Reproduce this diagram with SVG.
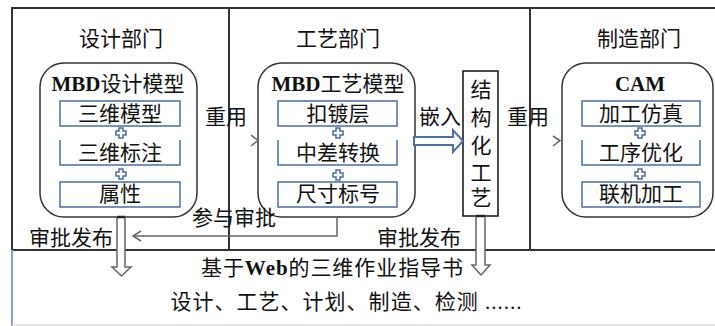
<svg xmlns="http://www.w3.org/2000/svg" width="715" height="326" viewBox="0 0 715 326">
<style>
text{font-family:"Liberation Serif","Noto Sans CJK SC",serif;font-size:21px;fill:#111;text-anchor:middle}
.b{font-weight:bold}
.frame{stroke:#333;stroke-width:2;fill:none}
.rbox{fill:#fff;stroke:#333;stroke-width:1.5}
.ibox{fill:#fff;stroke:#4a6fa5;stroke-width:1.5}
.iside{fill:none;stroke:#4a6fa5;stroke-width:1.5}
.plus{fill:#fff;stroke:#4a6fa5;stroke-width:1.5}
.conn{fill:none;stroke:#666;stroke-width:1.5}
.hollow{fill:#fff;stroke:#666;stroke-width:1.5}
.hollowb{fill:#fff;stroke:#4a6fa5;stroke-width:2}
</style>
<defs>
<path id="plus" d="M-2,-5h4v3h3v4h-3v3h-4v-3h-3v-4h3z" class="plus"/>
</defs>
<rect x="0" y="0" width="715" height="326" fill="#fff"/>
<g id="frame">
<path class="frame" d="M11,8H715M12,8V250M229,8V250M530,8V250M12,250H715"/>
<path d="M12,250V326" stroke="#8aa0c0" stroke-width="2" fill="none"/>
<path d="M12,325H715" stroke="#ddd" stroke-width="1.5" fill="none"/>
</g>
<g id="titles">
<text x="121" y="46">设计部门</text>
<text x="338" y="46">工艺部门</text>
<text x="639" y="46">制造部门</text>
</g>
<g id="design-model">
<rect class="rbox" x="40" y="63" width="157" height="154" rx="24"/>
<text x="118" y="91"><tspan class="b">MBD</tspan>设计模型</text>
<rect class="ibox" x="60" y="101" width="120" height="25"/>
<path class="iside" d="M60,140V165H180V140"/>
<rect class="ibox" x="60" y="182" width="120" height="25"/>
<text x="120" y="121">三维模型</text>
<text x="120" y="160">三维标注</text>
<text x="120" y="201">属性</text>
<use href="#plus" x="121" y="133"/>
<use href="#plus" x="121" y="174"/>
</g>
<g id="process-model">
<rect class="rbox" x="258" y="63" width="157" height="154" rx="24"/>
<text x="338" y="91"><tspan class="b">MBD</tspan>工艺模型</text>
<rect class="ibox" x="278" y="101" width="119" height="25"/>
<path class="iside" d="M278,140V165H397V140"/>
<rect class="ibox" x="278" y="182" width="119" height="25"/>
<text x="338" y="121">扣镀层</text>
<text x="338" y="160">中差转换</text>
<text x="338" y="201">尺寸标号</text>
<use href="#plus" x="338" y="133"/>
<use href="#plus" x="338" y="175"/>
</g>
<g id="structured-process">
<rect x="463" y="71" width="35" height="145" fill="#fff" stroke="#111" stroke-width="1.5"/>
<text x="481" y="97">结</text>
<text x="481" y="125">构</text>
<text x="481" y="153">化</text>
<text x="481" y="180">工</text>
<text x="481" y="205">艺</text>
</g>
<g id="cam">
<rect class="rbox" x="562" y="63" width="151" height="154" rx="24"/>
<text x="640" y="91" class="b">CAM</text>
<rect class="ibox" x="582" y="101" width="118" height="25"/>
<path class="iside" d="M582,140V165H700V140"/>
<rect class="ibox" x="582" y="182" width="118" height="25"/>
<text x="641" y="121">加工仿真</text>
<text x="641" y="160">工序优化</text>
<text x="641" y="201">联机加工</text>
<use href="#plus" x="640" y="133"/>
<use href="#plus" x="640" y="174"/>
</g>
<g id="guide">
<text x="332" y="275" textLength="262" lengthAdjust="spacing">基于<tspan class="b">Web</tspan>的三维作业指导书</text>
<text x="346" y="309" textLength="351" lengthAdjust="spacing">设计、工艺、计划、制造、检测 ......</text>
</g>
<g id="connectors">
<path class="conn" d="M251,135L258,140.5L251,146"/>
<path class="conn" d="M553,136L560,140.5L553,146"/>
<path class="conn" d="M337,217V236H133"/>
<path class="conn" d="M141,231L133,236L141,241"/>
<path class="hollowb" d="M414,137H453V130L463,141L453,152V145H414Z"/>
<path class="hollow" d="M117,217V267H112L121.5,276L131,267H125V217Z"/>
<path d="M117,217H125" stroke="#222" stroke-width="2.5"/>
<path class="hollow" d="M476,216V265H472L481,275L490,265H485V216Z"/>
<path d="M476,216H485" stroke="#222" stroke-width="2.5"/>
<text x="226" y="124">重用</text>
<text x="440" y="124">嵌入</text>
<text x="528" y="124">重用</text>
<text x="234" y="225">参与审批</text>
<text x="71" y="245">审批发布</text>
<text x="419" y="245">审批发布</text>
</g>
</svg>
